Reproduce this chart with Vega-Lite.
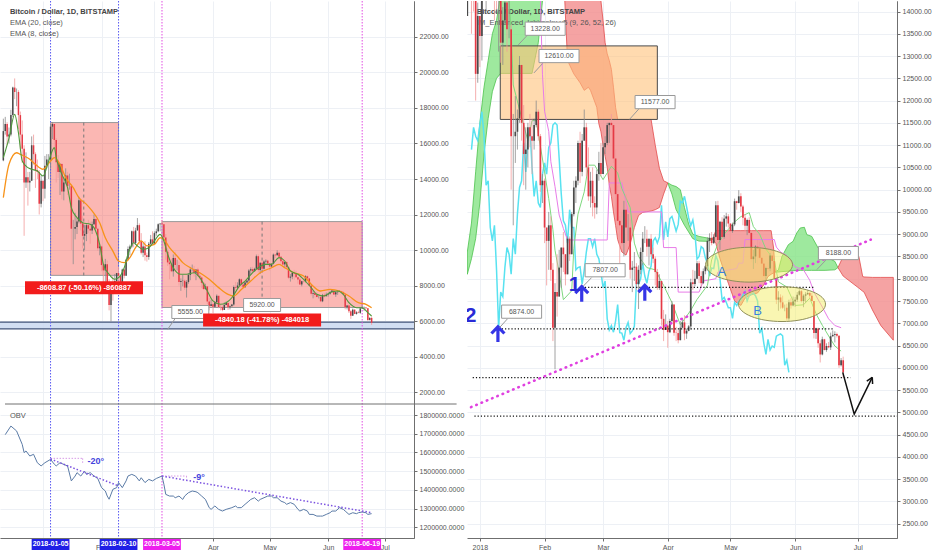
{
"$schema": "https://vega.github.io/schema/vega-lite/v6.json",
"background": "white",
"padding": 0,
"spacing": 53,
"bounds": "flush",
"config": {
  "font": "Liberation Sans",
  "view": {"stroke": null},
  "axis": {"labelFontSize": 7, "labelColor": "#555555", "domainColor": "#6f6f6f", "tickColor": "#6f6f6f", "gridColor": "#edf0f5", "tickSize": 3, "labelPadding": 2, "labelOverlap": false}
},
"datasets": {
  "btc": [
    {"d":"2017-12-11","o":15050,"h":17400,"l":15000,"c":16700},
    {"d":"2017-12-12","o":16700,"h":17500,"l":16500,"c":17100},
    {"d":"2017-12-13","o":17100,"h":17200,"l":15900,"c":16400},
    {"d":"2017-12-14","o":16400,"h":16900,"l":16000,"c":16500},
    {"d":"2017-12-15","o":16500,"h":17900,"l":16400,"c":17600},
    {"d":"2017-12-16","o":17600,"h":19200,"l":17500,"c":19150},
    {"d":"2017-12-17","o":19150,"h":19666,"l":18500,"c":18900},
    {"d":"2017-12-18","o":18900,"h":19100,"l":18100,"c":18900},
    {"d":"2017-12-19","o":18900,"h":19000,"l":16800,"c":17600},
    {"d":"2017-12-20","o":17600,"h":17800,"l":15700,"c":16500},
    {"d":"2017-12-21","o":16500,"h":17300,"l":14900,"c":15700},
    {"d":"2017-12-22","o":15700,"h":15900,"l":10800,"c":13800},
    {"d":"2017-12-23","o":13800,"h":15500,"l":13500,"c":14100},
    {"d":"2017-12-24","o":14100,"h":14400,"l":12500,"c":13800},
    {"d":"2017-12-25","o":13800,"h":14400,"l":13300,"c":13900},
    {"d":"2017-12-26","o":13900,"h":16400,"l":13900,"c":15900},
    {"d":"2017-12-27","o":15900,"h":16500,"l":14800,"c":15400},
    {"d":"2017-12-28","o":15400,"h":15500,"l":13500,"c":14500},
    {"d":"2017-12-29","o":14500,"h":15100,"l":14000,"c":14400},
    {"d":"2017-12-30","o":14400,"h":14500,"l":12000,"c":12600},
    {"d":"2017-12-31","o":12600,"h":14200,"l":12400,"c":13900},
    {"d":"2018-01-01","o":13900,"h":13900,"l":12750,"c":13450},
    {"d":"2018-01-02","o":13450,"h":15300,"l":12900,"c":14750},
    {"d":"2018-01-03","o":14750,"h":15400,"l":14600,"c":15100},
    {"d":"2018-01-04","o":15100,"h":15400,"l":14000,"c":15100},
    {"d":"2018-01-05","o":15100,"h":17100,"l":14600,"c":16950},
    {"d":"2018-01-06","o":16950,"h":17200,"l":16250,"c":17100},
    {"d":"2018-01-07","o":17100,"h":17100,"l":15800,"c":16200},
    {"d":"2018-01-08","o":16200,"h":16300,"l":13800,"c":14950},
    {"d":"2018-01-09","o":14950,"h":15350,"l":14050,"c":14400},
    {"d":"2018-01-10","o":14400,"h":14900,"l":13100,"c":14850},
    {"d":"2018-01-11","o":14850,"h":14900,"l":12850,"c":13300},
    {"d":"2018-01-12","o":13300,"h":14100,"l":12800,"c":13800},
    {"d":"2018-01-13","o":13800,"h":14600,"l":13700,"c":14200},
    {"d":"2018-01-14","o":14200,"h":14400,"l":13100,"c":13600},
    {"d":"2018-01-15","o":13600,"h":14300,"l":13400,"c":13600},
    {"d":"2018-01-16","o":13600,"h":13700,"l":10000,"c":11200},
    {"d":"2018-01-17","o":11200,"h":11700,"l":9200,"c":11200},
    {"d":"2018-01-18","o":11200,"h":12100,"l":10600,"c":11300},
    {"d":"2018-01-19","o":11300,"h":11800,"l":10900,"c":11600},
    {"d":"2018-01-20","o":11600,"h":13000,"l":11500,"c":12800},
    {"d":"2018-01-21","o":12800,"h":12800,"l":11100,"c":11500},
    {"d":"2018-01-22","o":11500,"h":11900,"l":10100,"c":10800},
    {"d":"2018-01-23","o":10800,"h":11400,"l":10000,"c":10900},
    {"d":"2018-01-24","o":10900,"h":11500,"l":10500,"c":11400},
    {"d":"2018-01-25","o":11400,"h":11700,"l":10950,"c":11200},
    {"d":"2018-01-26","o":11200,"h":11600,"l":10350,"c":11100},
    {"d":"2018-01-27","o":11100,"h":11600,"l":10900,"c":11450},
    {"d":"2018-01-28","o":11450,"h":12000,"l":11400,"c":11750},
    {"d":"2018-01-29","o":11750,"h":11800,"l":11100,"c":11200},
    {"d":"2018-01-30","o":11200,"h":11250,"l":9950,"c":10100},
    {"d":"2018-01-31","o":10100,"h":10350,"l":9700,"c":10200},
    {"d":"2018-02-01","o":10200,"h":10250,"l":8800,"c":9150},
    {"d":"2018-02-02","o":9150,"h":9150,"l":7850,"c":8850},
    {"d":"2018-02-03","o":8850,"h":9500,"l":8200,"c":9200},
    {"d":"2018-02-04","o":9200,"h":9400,"l":7950,"c":8200},
    {"d":"2018-02-05","o":8200,"h":8350,"l":6600,"c":6900},
    {"d":"2018-02-06","o":6900,"h":7900,"l":5968,"c":7700},
    {"d":"2018-02-07","o":7700,"h":8550,"l":7150,"c":7600},
    {"d":"2018-02-08","o":7600,"h":8650,"l":7600,"c":8250},
    {"d":"2018-02-09","o":8250,"h":8700,"l":7800,"c":8700},
    {"d":"2018-02-10","o":8700,"h":9050,"l":8150,"c":8550},
    {"d":"2018-02-11","o":8550,"h":8550,"l":7850,"c":8100},
    {"d":"2018-02-12","o":8100,"h":8950,"l":8100,"c":8900},
    {"d":"2018-02-13","o":8900,"h":8950,"l":8400,"c":8550},
    {"d":"2018-02-14","o":8550,"h":9500,"l":8550,"c":9450},
    {"d":"2018-02-15","o":9450,"h":10200,"l":9400,"c":10050},
    {"d":"2018-02-16","o":10050,"h":10300,"l":9700,"c":10200},
    {"d":"2018-02-17","o":10200,"h":11100,"l":10100,"c":11050},
    {"d":"2018-02-18","o":11050,"h":11300,"l":10150,"c":10400},
    {"d":"2018-02-19","o":10400,"h":11250,"l":10300,"c":11100},
    {"d":"2018-02-20","o":11100,"h":11800,"l":11100,"c":11400},
    {"d":"2018-02-21","o":11400,"h":11500,"l":10300,"c":10500},
    {"d":"2018-02-22","o":10500,"h":10950,"l":9750,"c":9850},
    {"d":"2018-02-23","o":9850,"h":10400,"l":9600,"c":10200},
    {"d":"2018-02-24","o":10200,"h":10500,"l":9400,"c":9700},
    {"d":"2018-02-25","o":9700,"h":9850,"l":9350,"c":9600},
    {"d":"2018-02-26","o":9600,"h":10450,"l":9450,"c":10350},
    {"d":"2018-02-27","o":10350,"h":10850,"l":10200,"c":10600},
    {"d":"2018-02-28","o":10600,"h":11050,"l":10300,"c":10350},
    {"d":"2018-03-01","o":10350,"h":11050,"l":10350,"c":10950},
    {"d":"2018-03-02","o":10950,"h":11200,"l":10800,"c":11050},
    {"d":"2018-03-03","o":11050,"h":11500,"l":11000,"c":11450},
    {"d":"2018-03-04","o":11450,"h":11500,"l":11050,"c":11500},
    {"d":"2018-03-05","o":11500,"h":11700,"l":11400,"c":11450},
    {"d":"2018-03-06","o":11450,"h":11450,"l":10600,"c":10700},
    {"d":"2018-03-07","o":10700,"h":10900,"l":9450,"c":9900},
    {"d":"2018-03-08","o":9900,"h":10100,"l":9100,"c":9300},
    {"d":"2018-03-09","o":9300,"h":9400,"l":8350,"c":9200},
    {"d":"2018-03-10","o":9200,"h":9500,"l":8750,"c":8800},
    {"d":"2018-03-11","o":8800,"h":9750,"l":8500,"c":9550},
    {"d":"2018-03-12","o":9550,"h":9900,"l":8800,"c":9150},
    {"d":"2018-03-13","o":9150,"h":9450,"l":8850,"c":9150},
    {"d":"2018-03-14","o":9150,"h":9350,"l":8000,"c":8200},
    {"d":"2018-03-15","o":8200,"h":8400,"l":7700,"c":8250},
    {"d":"2018-03-16","o":8250,"h":8600,"l":7950,"c":8270},
    {"d":"2018-03-17","o":8270,"h":8350,"l":7750,"c":7880},
    {"d":"2018-03-18","o":7880,"h":8300,"l":7320,"c":8200},
    {"d":"2018-03-19","o":8200,"h":8700,"l":8100,"c":8600},
    {"d":"2018-03-20","o":8600,"h":9050,"l":8300,"c":8900},
    {"d":"2018-03-21","o":8900,"h":9180,"l":8800,"c":8900},
    {"d":"2018-03-22","o":8900,"h":9100,"l":8500,"c":8720},
    {"d":"2018-03-23","o":8720,"h":8900,"l":8300,"c":8900},
    {"d":"2018-03-24","o":8900,"h":9000,"l":8500,"c":8550},
    {"d":"2018-03-25","o":8550,"h":8700,"l":8350,"c":8450},
    {"d":"2018-03-26","o":8450,"h":8500,"l":7850,"c":8150},
    {"d":"2018-03-27","o":8150,"h":8220,"l":7750,"c":7800},
    {"d":"2018-03-28","o":7800,"h":8100,"l":7750,"c":7950},
    {"d":"2018-03-29","o":7950,"h":7950,"l":6950,"c":7100},
    {"d":"2018-03-30","o":7100,"h":7300,"l":6600,"c":6850},
    {"d":"2018-03-31","o":6850,"h":7200,"l":6850,"c":6950},
    {"d":"2018-04-01","o":6950,"h":7050,"l":6450,"c":6800},
    {"d":"2018-04-02","o":6800,"h":7100,"l":6780,"c":7050},
    {"d":"2018-04-03","o":7050,"h":7500,"l":7020,"c":7420},
    {"d":"2018-04-04","o":7420,"h":7420,"l":6720,"c":6790},
    {"d":"2018-04-05","o":6790,"h":6920,"l":6600,"c":6780},
    {"d":"2018-04-06","o":6780,"h":6850,"l":6550,"c":6620},
    {"d":"2018-04-07","o":6620,"h":7050,"l":6620,"c":6900},
    {"d":"2018-04-08","o":6900,"h":7100,"l":6900,"c":7020},
    {"d":"2018-04-09","o":7020,"h":7180,"l":6620,"c":6770},
    {"d":"2018-04-10","o":6770,"h":6880,"l":6650,"c":6830},
    {"d":"2018-04-11","o":6830,"h":6960,"l":6820,"c":6930},
    {"d":"2018-04-12","o":6930,"h":8000,"l":6860,"c":7920},
    {"d":"2018-04-13","o":7920,"h":8200,"l":7750,"c":7880},
    {"d":"2018-04-14","o":7880,"h":8180,"l":7830,"c":8000},
    {"d":"2018-04-15","o":8000,"h":8400,"l":8000,"c":8350},
    {"d":"2018-04-16","o":8350,"h":8400,"l":7900,"c":8060},
    {"d":"2018-04-17","o":8060,"h":8170,"l":7830,"c":7900},
    {"d":"2018-04-18","o":7900,"h":8230,"l":7880,"c":8170},
    {"d":"2018-04-19","o":8170,"h":8300,"l":8100,"c":8280},
    {"d":"2018-04-20","o":8280,"h":8930,"l":8200,"c":8850},
    {"d":"2018-04-21","o":8850,"h":9020,"l":8600,"c":8920},
    {"d":"2018-04-22","o":8920,"h":9050,"l":8750,"c":8800},
    {"d":"2018-04-23","o":8800,"h":9000,"l":8780,"c":8940},
    {"d":"2018-04-24","o":8940,"h":9740,"l":8930,"c":9650},
    {"d":"2018-04-25","o":9650,"h":9750,"l":8730,"c":8870},
    {"d":"2018-04-26","o":8870,"h":9300,"l":8650,"c":9280},
    {"d":"2018-04-27","o":9280,"h":9380,"l":8930,"c":8940},
    {"d":"2018-04-28","o":8940,"h":9430,"l":8900,"c":9350},
    {"d":"2018-04-29","o":9350,"h":9480,"l":9170,"c":9400},
    {"d":"2018-04-30","o":9400,"h":9450,"l":9150,"c":9240},
    {"d":"2018-05-01","o":9240,"h":9240,"l":8850,"c":9070},
    {"d":"2018-05-02","o":9070,"h":9260,"l":9030,"c":9220},
    {"d":"2018-05-03","o":9220,"h":9800,"l":9180,"c":9740},
    {"d":"2018-05-04","o":9740,"h":9750,"l":9550,"c":9700},
    {"d":"2018-05-05","o":9700,"h":9990,"l":9690,"c":9850},
    {"d":"2018-05-06","o":9850,"h":9920,"l":9500,"c":9620},
    {"d":"2018-05-07","o":9620,"h":9660,"l":9200,"c":9370},
    {"d":"2018-05-08","o":9370,"h":9450,"l":9050,"c":9190},
    {"d":"2018-05-09","o":9190,"h":9350,"l":8980,"c":9320},
    {"d":"2018-05-10","o":9320,"h":9380,"l":9010,"c":9030},
    {"d":"2018-05-11","o":9030,"h":9030,"l":8370,"c":8440},
    {"d":"2018-05-12","o":8440,"h":8650,"l":8220,"c":8500},
    {"d":"2018-05-13","o":8500,"h":8750,"l":8350,"c":8720},
    {"d":"2018-05-14","o":8720,"h":8880,"l":8320,"c":8680},
    {"d":"2018-05-15","o":8680,"h":8830,"l":8440,"c":8470},
    {"d":"2018-05-16","o":8470,"h":8480,"l":8100,"c":8340},
    {"d":"2018-05-17","o":8340,"h":8430,"l":8030,"c":8060},
    {"d":"2018-05-18","o":8060,"h":8270,"l":7950,"c":8240},
    {"d":"2018-05-19","o":8240,"h":8380,"l":8140,"c":8230},
    {"d":"2018-05-20","o":8230,"h":8580,"l":8170,"c":8520},
    {"d":"2018-05-21","o":8520,"h":8560,"l":8330,"c":8400},
    {"d":"2018-05-22","o":8400,"h":8400,"l":7990,"c":8000},
    {"d":"2018-05-23","o":8000,"h":8030,"l":7430,"c":7530},
    {"d":"2018-05-24","o":7530,"h":7720,"l":7280,"c":7580},
    {"d":"2018-05-25","o":7580,"h":7650,"l":7330,"c":7470},
    {"d":"2018-05-26","o":7470,"h":7620,"l":7320,"c":7350},
    {"d":"2018-05-27","o":7350,"h":7420,"l":7270,"c":7350},
    {"d":"2018-05-28","o":7350,"h":7440,"l":7060,"c":7110},
    {"d":"2018-05-29","o":7110,"h":7530,"l":7060,"c":7470},
    {"d":"2018-05-30","o":7470,"h":7560,"l":7330,"c":7400},
    {"d":"2018-05-31","o":7400,"h":7600,"l":7380,"c":7490},
    {"d":"2018-06-01","o":7490,"h":7590,"l":7370,"c":7530},
    {"d":"2018-06-02","o":7530,"h":7700,"l":7480,"c":7640},
    {"d":"2018-06-03","o":7640,"h":7760,"l":7620,"c":7720},
    {"d":"2018-06-04","o":7720,"h":7750,"l":7470,"c":7500},
    {"d":"2018-06-05","o":7500,"h":7650,"l":7360,"c":7620},
    {"d":"2018-06-06","o":7620,"h":7700,"l":7470,"c":7650},
    {"d":"2018-06-07","o":7650,"h":7740,"l":7640,"c":7680},
    {"d":"2018-06-08","o":7680,"h":7700,"l":7560,"c":7620},
    {"d":"2018-06-09","o":7620,"h":7680,"l":7490,"c":7500},
    {"d":"2018-06-10","o":7500,"h":7500,"l":6660,"c":6780},
    {"d":"2018-06-11","o":6780,"h":6900,"l":6650,"c":6880},
    {"d":"2018-06-12","o":6880,"h":6900,"l":6450,"c":6550},
    {"d":"2018-06-13","o":6550,"h":6620,"l":6120,"c":6300},
    {"d":"2018-06-14","o":6300,"h":6700,"l":6280,"c":6640},
    {"d":"2018-06-15","o":6640,"h":6650,"l":6390,"c":6400},
    {"d":"2018-06-16","o":6400,"h":6550,"l":6360,"c":6490},
    {"d":"2018-06-17","o":6490,"h":6580,"l":6440,"c":6460},
    {"d":"2018-06-18","o":6460,"h":6790,"l":6400,"c":6710},
    {"d":"2018-06-19","o":6710,"h":6840,"l":6690,"c":6740},
    {"d":"2018-06-20","o":6740,"h":6820,"l":6570,"c":6760},
    {"d":"2018-06-21","o":6760,"h":6790,"l":6680,"c":6720},
    {"d":"2018-06-22","o":6720,"h":6730,"l":6000,"c":6060},
    {"d":"2018-06-23","o":6060,"h":6220,"l":6030,"c":6170},
    {"d":"2018-06-24","o":6170,"h":6250,"l":5780,"c":5900}
  ],
  "ema": [
    {"d":"2017-12-11","v":12950,"s":"e20"},{"d":"2017-12-14","v":14830,"s":"e20"},{"d":"2017-12-18","v":15480,"s":"e20"},{"d":"2017-12-20","v":15390,"s":"e20"},{"d":"2017-12-25","v":15110,"s":"e20"},{"d":"2017-12-28","v":14830,"s":"e20"},{"d":"2018-01-01","v":14550,"s":"e20"},{"d":"2018-01-05","v":15010,"s":"e20"},{"d":"2018-01-07","v":15200,"s":"e20"},{"d":"2018-01-10","v":14830,"s":"e20"},{"d":"2018-01-13","v":14080,"s":"e20"},{"d":"2018-01-17","v":13510,"s":"e20"},{"d":"2018-01-20","v":12950,"s":"e20"},{"d":"2018-01-24","v":12570,"s":"e20"},{"d":"2018-01-27","v":12200,"s":"e20"},{"d":"2018-01-31","v":11540,"s":"e20"},{"d":"2018-02-03","v":10690,"s":"e20"},{"d":"2018-02-07","v":9940,"s":"e20"},{"d":"2018-02-10","v":9380,"s":"e20"},{"d":"2018-02-13","v":9290,"s":"e20"},{"d":"2018-02-16","v":9570,"s":"e20"},{"d":"2018-02-19","v":10130,"s":"e20"},{"d":"2018-02-22","v":10510,"s":"e20"},{"d":"2018-02-25","v":10230,"s":"e20"},{"d":"2018-03-01","v":10320,"s":"e20"},{"d":"2018-03-04","v":10690,"s":"e20"},{"d":"2018-03-06","v":10600,"s":"e20"},{"d":"2018-03-09","v":10130,"s":"e20"},{"d":"2018-03-13","v":9660,"s":"e20"},{"d":"2018-03-16","v":9290,"s":"e20"},{"d":"2018-03-20","v":9000,"s":"e20"},{"d":"2018-03-25","v":8720,"s":"e20"},{"d":"2018-03-30","v":8350,"s":"e20"},{"d":"2018-04-04","v":7880,"s":"e20"},{"d":"2018-04-09","v":7500,"s":"e20"},{"d":"2018-04-12","v":7410,"s":"e20"},{"d":"2018-04-16","v":7780,"s":"e20"},{"d":"2018-04-21","v":8250,"s":"e20"},{"d":"2018-04-26","v":8720,"s":"e20"},{"d":"2018-05-02","v":9000,"s":"e20"},{"d":"2018-05-06","v":9190,"s":"e20"},{"d":"2018-05-09","v":9000,"s":"e20"},{"d":"2018-05-14","v":8720,"s":"e20"},{"d":"2018-05-19","v":8540,"s":"e20"},{"d":"2018-05-23","v":8070,"s":"e20"},{"d":"2018-05-28","v":7690,"s":"e20"},{"d":"2018-06-02","v":7780,"s":"e20"},{"d":"2018-06-07","v":7690,"s":"e20"},{"d":"2018-06-12","v":7410,"s":"e20"},{"d":"2018-06-17","v":7030,"s":"e20"},{"d":"2018-06-21","v":6940,"s":"e20"},{"d":"2018-06-24","v":6750,"s":"e20"},
    {"d":"2017-12-11","v":15200,"s":"e8"},{"d":"2017-12-14","v":16300,"s":"e8"},{"d":"2017-12-17","v":17640,"s":"e8"},{"d":"2017-12-19","v":16600,"s":"e8"},{"d":"2017-12-21","v":15010,"s":"e8"},{"d":"2017-12-24","v":14640,"s":"e8"},{"d":"2017-12-26","v":14550,"s":"e8"},{"d":"2017-12-29","v":14450,"s":"e8"},{"d":"2018-01-01","v":14170,"s":"e8"},{"d":"2018-01-04","v":15010,"s":"e8"},{"d":"2018-01-07","v":15770,"s":"e8"},{"d":"2018-01-08","v":15200,"s":"e8"},{"d":"2018-01-11","v":14260,"s":"e8"},{"d":"2018-01-14","v":13510,"s":"e8"},{"d":"2018-01-16","v":12390,"s":"e8"},{"d":"2018-01-19","v":11820,"s":"e8"},{"d":"2018-01-22","v":11540,"s":"e8"},{"d":"2018-01-26","v":11450,"s":"e8"},{"d":"2018-01-28","v":11260,"s":"e8"},{"d":"2018-01-31","v":10320,"s":"e8"},{"d":"2018-02-02","v":9190,"s":"e8"},{"d":"2018-02-05","v":8630,"s":"e8"},{"d":"2018-02-08","v":8350,"s":"e8"},{"d":"2018-02-10","v":8440,"s":"e8"},{"d":"2018-02-13","v":9000,"s":"e8"},{"d":"2018-02-15","v":9760,"s":"e8"},{"d":"2018-02-18","v":10410,"s":"e8"},{"d":"2018-02-20","v":10230,"s":"e8"},{"d":"2018-02-23","v":10040,"s":"e8"},{"d":"2018-02-26","v":10130,"s":"e8"},{"d":"2018-03-01","v":10510,"s":"e8"},{"d":"2018-03-04","v":10880,"s":"e8"},{"d":"2018-03-06","v":10510,"s":"e8"},{"d":"2018-03-08","v":9760,"s":"e8"},{"d":"2018-03-11","v":9000,"s":"e8"},{"d":"2018-03-15","v":8630,"s":"e8"},{"d":"2018-03-18","v":8630,"s":"e8"},{"d":"2018-03-22","v":8720,"s":"e8"},{"d":"2018-03-25","v":8440,"s":"e8"},{"d":"2018-03-29","v":7690,"s":"e8"},{"d":"2018-04-01","v":7130,"s":"e8"},{"d":"2018-04-05","v":6940,"s":"e8"},{"d":"2018-04-08","v":7030,"s":"e8"},{"d":"2018-04-11","v":7310,"s":"e8"},{"d":"2018-04-15","v":7970,"s":"e8"},{"d":"2018-04-18","v":8250,"s":"e8"},{"d":"2018-04-22","v":8720,"s":"e8"},{"d":"2018-04-25","v":9000,"s":"e8"},{"d":"2018-04-29","v":9190,"s":"e8"},{"d":"2018-05-02","v":9190,"s":"e8"},{"d":"2018-05-06","v":9570,"s":"e8"},{"d":"2018-05-09","v":9380,"s":"e8"},{"d":"2018-05-12","v":8820,"s":"e8"},{"d":"2018-05-16","v":8630,"s":"e8"},{"d":"2018-05-19","v":8350,"s":"e8"},{"d":"2018-05-23","v":7880,"s":"e8"},{"d":"2018-05-26","v":7500,"s":"e8"},{"d":"2018-05-30","v":7410,"s":"e8"},{"d":"2018-06-02","v":7600,"s":"e8"},{"d":"2018-06-06","v":7690,"s":"e8"},{"d":"2018-06-09","v":7500,"s":"e8"},{"d":"2018-06-12","v":7030,"s":"e8"},{"d":"2018-06-16","v":6750,"s":"e8"},{"d":"2018-06-19","v":6750,"s":"e8"},{"d":"2018-06-22","v":6470,"s":"e8"},{"d":"2018-06-24","v":6280,"s":"e8"}
  ],
  "obv": [
    {"d":"2017-12-12","v":1695000},{"d":"2017-12-15","v":1741000},{"d":"2017-12-18","v":1715000},{"d":"2017-12-21","v":1643000},{"d":"2017-12-22","v":1599000},{"d":"2017-12-23","v":1608000},{"d":"2017-12-25","v":1581000},{"d":"2017-12-27","v":1590000},{"d":"2017-12-29","v":1545000},{"d":"2017-12-31","v":1528000},{"d":"2018-01-02","v":1545000},{"d":"2018-01-05","v":1563000},{"d":"2018-01-07","v":1537000},{"d":"2018-01-08","v":1528000},{"d":"2018-01-10","v":1545000},{"d":"2018-01-12","v":1536000},{"d":"2018-01-14","v":1528000},{"d":"2018-01-16","v":1448000},{"d":"2018-01-18","v":1474000},{"d":"2018-01-19","v":1492000},{"d":"2018-01-21","v":1474000},{"d":"2018-01-23","v":1500000},{"d":"2018-01-24","v":1483000},{"d":"2018-01-26","v":1492000},{"d":"2018-01-28","v":1474000},{"d":"2018-01-30","v":1461000},{"d":"2018-02-01","v":1412000},{"d":"2018-02-03","v":1394000},{"d":"2018-02-04","v":1367000},{"d":"2018-02-05","v":1350000},{"d":"2018-02-07","v":1403000},{"d":"2018-02-09","v":1412000},{"d":"2018-02-10","v":1439000},{"d":"2018-02-12","v":1412000},{"d":"2018-02-14","v":1448000},{"d":"2018-02-15","v":1474000},{"d":"2018-02-17","v":1483000},{"d":"2018-02-19","v":1474000},{"d":"2018-02-21","v":1448000},{"d":"2018-02-22","v":1465000},{"d":"2018-02-24","v":1439000},{"d":"2018-02-26","v":1456000},{"d":"2018-02-28","v":1448000},{"d":"2018-03-02","v":1461000},{"d":"2018-03-05","v":1474000},{"d":"2018-03-06","v":1430000},{"d":"2018-03-07","v":1376000},{"d":"2018-03-09","v":1367000},{"d":"2018-03-11","v":1367000},{"d":"2018-03-12","v":1358000},{"d":"2018-03-14","v":1367000},{"d":"2018-03-16","v":1349000},{"d":"2018-03-17","v":1367000},{"d":"2018-03-19","v":1385000},{"d":"2018-03-21","v":1394000},{"d":"2018-03-23","v":1390000},{"d":"2018-03-24","v":1385000},{"d":"2018-03-26","v":1367000},{"d":"2018-03-28","v":1349000},{"d":"2018-03-30","v":1305000},{"d":"2018-03-31","v":1296000},{"d":"2018-04-02","v":1314000},{"d":"2018-04-04","v":1296000},{"d":"2018-04-06","v":1287000},{"d":"2018-04-08","v":1296000},{"d":"2018-04-11","v":1305000},{"d":"2018-04-13","v":1314000},{"d":"2018-04-14","v":1305000},{"d":"2018-04-16","v":1305000},{"d":"2018-04-18","v":1323000},{"d":"2018-04-20","v":1340000},{"d":"2018-04-21","v":1349000},{"d":"2018-04-23","v":1358000},{"d":"2018-04-25","v":1340000},{"d":"2018-04-26","v":1349000},{"d":"2018-04-28","v":1358000},{"d":"2018-04-30","v":1367000},{"d":"2018-05-02","v":1367000},{"d":"2018-05-03","v":1358000},{"d":"2018-05-05","v":1358000},{"d":"2018-05-07","v":1340000},{"d":"2018-05-09","v":1332000},{"d":"2018-05-10","v":1323000},{"d":"2018-05-12","v":1332000},{"d":"2018-05-14","v":1323000},{"d":"2018-05-16","v":1296000},{"d":"2018-05-17","v":1287000},{"d":"2018-05-19","v":1296000},{"d":"2018-05-21","v":1287000},{"d":"2018-05-22","v":1269000},{"d":"2018-05-24","v":1269000},{"d":"2018-05-26","v":1260000},{"d":"2018-05-28","v":1260000},{"d":"2018-05-29","v":1260000},{"d":"2018-05-31","v":1269000},{"d":"2018-06-02","v":1278000},{"d":"2018-06-03","v":1287000},{"d":"2018-06-05","v":1287000},{"d":"2018-06-07","v":1305000},{"d":"2018-06-09","v":1296000},{"d":"2018-06-10","v":1287000},{"d":"2018-06-12","v":1269000},{"d":"2018-06-14","v":1278000},{"d":"2018-06-16","v":1273000},{"d":"2018-06-17","v":1278000},{"d":"2018-06-19","v":1282000},{"d":"2018-06-21","v":1278000},{"d":"2018-06-22","v":1269000},{"d":"2018-06-24","v":1273000}
  ],
  "lbox": [
    {"d":"2018-01-05","d2":"2018-02-10","top":17180,"bot":8571},
    {"d":"2018-03-05","d2":"2018-06-19","top":11600,"bot":6760}
  ],
  "lmid": [
    {"d":"2018-01-22T14:00:00Z","top":17180,"bot":8571},
    {"d":"2018-04-27","top":11600,"bot":6760}
  ],
  "band": [{"d":"2017-12-01","d2":"2018-08-01","top":5940,"bot":5555}],
  "vlines": [
    {"d":"2018-01-05","g":"blue"},{"d":"2018-02-10","g":"blue"},
    {"d":"2018-03-05","g":"pink"},{"d":"2018-06-19","g":"pink"}
  ],
  "sep": [{"d":"2017-12-11T21:00:00Z","d2":"2018-08-08","p":1324}],
  "ltitle": [
    {"d":"2017-12-14T11:00:00Z","p":23425,"t":"Bitcoin / Dollar, 1D, BITSTAMP","k":"main"},
    {"d":"2017-12-14T11:00:00Z","p":22806,"t":"EMA (20, close)","k":"study"},
    {"d":"2017-12-14T11:00:00Z","p":22186,"t":"EMA (8, close)","k":"study"}
  ],
  "lcall": [
    {"d":"2018-03-20","p":6507,"t":"5555.00"},
    {"d":"2018-04-27","p":6901,"t":"5920.00"}
  ],
  "lptr": [{"d":"2018-03-12","p":6141,"d2":"2018-03-08","p2":5530}],
  "lred": [
    {"d":"2018-01-22T17:00:00Z","p":7876,"t":"-8608.87 (-50.16%) -860887"},
    {"d":"2018-04-27","p":6056,"t":"-4840.18 (-41.78%) -484018"}
  ],
  "obvtrend": [
    {"d":"2018-01-05","v":1565000,"d2":"2018-02-10","v2":1421000},
    {"d":"2018-03-05","v":1474000,"d2":"2018-06-24","v2":1278500}
  ],
  "obvref": [
    {"d":"2018-01-05","v":1568600,"d2":"2018-01-22","v2":1568600},
    {"d":"2018-01-22","v":1568600,"d2":"2018-01-22","v2":1536500},
    {"d":"2018-03-05","v":1474100,"d2":"2018-03-18","v2":1474100},
    {"d":"2018-03-18","v":1474100,"d2":"2018-03-18","v2":1456000}
  ],
  "obvang": [
    {"d":"2018-01-29","v":1554300,"t":"-20°"},
    {"d":"2018-03-24T16:00:00Z","v":1468800,"t":"-9°"}
  ],
  "obvlbl": [{"d":"2017-12-14T11:00:00Z","v":1794700,"t":"OBV"}],
  "badge": [
    {"d":"2017-12-26","d2":"2018-01-15","g":"blue"},
    {"d":"2018-01-31","d2":"2018-02-20","g":"blue"},
    {"d":"2018-02-23","d2":"2018-03-15","g":"pink"},
    {"d":"2018-06-09","d2":"2018-06-29","g":"pink"}
  ],
  "badgetxt": [
    {"d":"2018-01-05","t":"2018-01-05"},
    {"d":"2018-02-10","t":"2018-02-10"},
    {"d":"2018-03-05","t":"2018-03-05"},
    {"d":"2018-06-19","t":"2018-06-19"}
  ],
  "cloud": [
    {"d":"2017-12-26","hi":8600,"lo":8100,"seg":"g1","k":"g"},
    {"d":"2017-12-28","hi":9250,"lo":8450,"seg":"g1","k":"g"},
    {"d":"2017-12-30","hi":10400,"lo":8900,"seg":"g1","k":"g"},
    {"d":"2018-01-01","hi":11500,"lo":9700,"seg":"g1","k":"g"},
    {"d":"2018-01-03","hi":12300,"lo":10800,"seg":"g1","k":"g"},
    {"d":"2018-01-05","hi":12900,"lo":11600,"seg":"g1","k":"g"},
    {"d":"2018-01-07","hi":13500,"lo":12200,"seg":"g1","k":"g"},
    {"d":"2018-01-09","hi":13800,"lo":12500,"seg":"g1","k":"g"},
    {"d":"2018-01-11","hi":14400,"lo":12610,"seg":"g1","k":"g"},
    {"d":"2018-01-13","hi":15000,"lo":12610,"seg":"g1","k":"g"},
    {"d":"2018-01-26","hi":15000,"lo":12610,"seg":"g1","k":"g"},
    {"d":"2018-01-29","hi":15000,"lo":13300,"seg":"g1","k":"g"},
    {"d":"2018-01-31","hi":15000,"lo":14236,"seg":"g1","k":"g"},
    {"d":"2018-02-01","hi":15000,"lo":15000,"seg":"g1","k":"g"},
    {"d":"2018-02-10","hi":15000,"lo":15000,"seg":"r1","k":"r"},
    {"d":"2018-02-11","hi":15000,"lo":13900,"seg":"r1","k":"r"},
    {"d":"2018-02-12","hi":15000,"lo":12900,"seg":"r1","k":"r"},
    {"d":"2018-02-15","hi":15000,"lo":12600,"seg":"r1","k":"r"},
    {"d":"2018-02-18","hi":15000,"lo":12400,"seg":"r1","k":"r"},
    {"d":"2018-02-20","hi":15000,"lo":12230,"seg":"r1","k":"r"},
    {"d":"2018-02-22","hi":15000,"lo":12300,"seg":"r1","k":"r"},
    {"d":"2018-02-23","hi":15000,"lo":12230,"seg":"r1","k":"r"},
    {"d":"2018-02-26","hi":15000,"lo":11850,"seg":"r1","k":"r"},
    {"d":"2018-02-27","hi":14500,"lo":11480,"seg":"r1","k":"r"},
    {"d":"2018-02-28","hi":14236,"lo":11300,"seg":"r1","k":"r"},
    {"d":"2018-03-01","hi":13800,"lo":11000,"seg":"r1","k":"r"},
    {"d":"2018-03-02","hi":13300,"lo":10750,"seg":"r1","k":"r"},
    {"d":"2018-03-03","hi":13050,"lo":10500,"seg":"r1","k":"r"},
    {"d":"2018-03-04","hi":12900,"lo":10100,"seg":"r1","k":"r"},
    {"d":"2018-03-05","hi":12700,"lo":9850,"seg":"r1","k":"r"},
    {"d":"2018-03-06","hi":12300,"lo":9500,"seg":"r1","k":"r"},
    {"d":"2018-03-07","hi":11850,"lo":9200,"seg":"r1","k":"r"},
    {"d":"2018-03-08","hi":11577,"lo":8880,"seg":"r1","k":"r"},
    {"d":"2018-03-10","hi":11577,"lo":8600,"seg":"r1","k":"r"},
    {"d":"2018-03-12","hi":11577,"lo":8530,"seg":"r1","k":"r"},
    {"d":"2018-03-14","hi":11577,"lo":8780,"seg":"r1","k":"r"},
    {"d":"2018-03-16","hi":11577,"lo":9150,"seg":"r1","k":"r"},
    {"d":"2018-03-18","hi":11577,"lo":9420,"seg":"r1","k":"r"},
    {"d":"2018-03-20","hi":11577,"lo":9490,"seg":"r1","k":"r"},
    {"d":"2018-03-22","hi":11577,"lo":9505,"seg":"r1","k":"r"},
    {"d":"2018-03-24","hi":11577,"lo":9520,"seg":"r1","k":"r"},
    {"d":"2018-03-26","hi":11000,"lo":9550,"seg":"r1","k":"r"},
    {"d":"2018-03-28","hi":10480,"lo":9600,"seg":"r1","k":"r"},
    {"d":"2018-03-30","hi":10200,"lo":9900,"seg":"r1","k":"r"},
    {"d":"2018-04-01","hi":10153,"lo":10153,"seg":"r1","k":"r"},
    {"d":"2018-04-01","hi":10153,"lo":10153,"seg":"g2","k":"g"},
    {"d":"2018-04-03","hi":10100,"lo":9900,"seg":"g2","k":"g"},
    {"d":"2018-04-05","hi":10070,"lo":9550,"seg":"g2","k":"g"},
    {"d":"2018-04-07","hi":10000,"lo":9380,"seg":"g2","k":"g"},
    {"d":"2018-04-09","hi":9600,"lo":9200,"seg":"g2","k":"g"},
    {"d":"2018-04-11","hi":9230,"lo":9050,"seg":"g2","k":"g"},
    {"d":"2018-04-13","hi":9000,"lo":8900,"seg":"g2","k":"g"},
    {"d":"2018-04-16","hi":8950,"lo":8845,"seg":"g2","k":"g"},
    {"d":"2018-04-20","hi":8915,"lo":8840,"seg":"g2","k":"g"},
    {"d":"2018-04-22T12:00:00Z","hi":8890,"lo":8890,"seg":"g2","k":"g"},
    {"d":"2018-04-22T12:00:00Z","hi":8890,"lo":8890,"seg":"r2","k":"r"},
    {"d":"2018-04-24","hi":9080,"lo":8800,"seg":"r2","k":"r"},
    {"d":"2018-04-26","hi":9080,"lo":8450,"seg":"r2","k":"r"},
    {"d":"2018-04-28","hi":9080,"lo":8165,"seg":"r2","k":"r"},
    {"d":"2018-04-30","hi":9080,"lo":7900,"seg":"r2","k":"r"},
    {"d":"2018-05-03","hi":9080,"lo":7500,"seg":"r2","k":"r"},
    {"d":"2018-05-06","hi":9080,"lo":7400,"seg":"r2","k":"r"},
    {"d":"2018-05-08","hi":9080,"lo":7565,"seg":"r2","k":"r"},
    {"d":"2018-05-11","hi":9080,"lo":7640,"seg":"r2","k":"r"},
    {"d":"2018-05-14","hi":9080,"lo":7680,"seg":"r2","k":"r"},
    {"d":"2018-05-17","hi":9080,"lo":7865,"seg":"r2","k":"r"},
    {"d":"2018-05-19","hi":9080,"lo":8050,"seg":"r2","k":"r"},
    {"d":"2018-05-20T12:00:00Z","hi":9080,"lo":8100,"seg":"r2","k":"r"},
    {"d":"2018-05-21T16:00:00Z","hi":8690,"lo":8130,"seg":"r2","k":"r"},
    {"d":"2018-05-22T12:00:00Z","hi":8150,"lo":8150,"seg":"r2","k":"r"},
    {"d":"2018-05-22T12:00:00Z","hi":8150,"lo":8150,"seg":"g3","k":"g"},
    {"d":"2018-05-24","hi":8200,"lo":8150,"seg":"g3","k":"g"},
    {"d":"2018-05-25T16:00:00Z","hi":8500,"lo":8160,"seg":"g3","k":"g"},
    {"d":"2018-05-28T18:00:00Z","hi":8765,"lo":8170,"seg":"g3","k":"g"},
    {"d":"2018-05-31","hi":8840,"lo":8180,"seg":"g3","k":"g"},
    {"d":"2018-06-01T18:00:00Z","hi":9027,"lo":8185,"seg":"g3","k":"g"},
    {"d":"2018-06-03T10:00:00Z","hi":9140,"lo":8188,"seg":"g3","k":"g"},
    {"d":"2018-06-05T10:00:00Z","hi":9155,"lo":8188,"seg":"g3","k":"g"},
    {"d":"2018-06-06T14:00:00Z","hi":8990,"lo":8188,"seg":"g3","k":"g"},
    {"d":"2018-06-08T22:00:00Z","hi":8952,"lo":8188,"seg":"g3","k":"g"},
    {"d":"2018-06-12","hi":8690,"lo":8188,"seg":"g3","k":"g"},
    {"d":"2018-06-15T08:00:00Z","hi":8502,"lo":8188,"seg":"g3","k":"g"},
    {"d":"2018-06-20","hi":8390,"lo":8200,"seg":"g3","k":"g"},
    {"d":"2018-06-21T12:00:00Z","hi":8250,"lo":8250,"seg":"g3","k":"g"},
    {"d":"2018-06-21T12:00:00Z","hi":8250,"lo":8250,"seg":"r3","k":"r"},
    {"d":"2018-06-24","hi":8500,"lo":8060,"seg":"r3","k":"r"},
    {"d":"2018-07-01T12:00:00Z","hi":8500,"lo":7790,"seg":"r3","k":"r"},
    {"d":"2018-07-03T08:00:00Z","hi":8050,"lo":7720,"seg":"r3","k":"r"},
    {"d":"2018-07-04","hi":8040,"lo":7700,"seg":"r3","k":"r"},
    {"d":"2018-07-08","hi":8030,"lo":7300,"seg":"r3","k":"r"},
    {"d":"2018-07-12","hi":8030,"lo":6950,"seg":"r3","k":"r"},
    {"d":"2018-07-18","hi":8030,"lo":6620,"seg":"r3","k":"r"}
  ],
  "obox": [{"d":"2018-01-10T19:00:00Z","d2":"2018-03-27","top":13228,"bot":11577}],
  "rtitle": [
    {"d":"2017-12-30T14:00:00Z","p":13996,"t":"Bitcoin / Dollar, 1D, BITSTAMP","k":"main"},
    {"d":"2017-12-30T14:00:00Z","p":13742,"t":"IM_Enhanced_Ichimoku v5 (9, 26, 52, 26)","k":"study"}
  ],
  "kijun": [
    {"d":"2018-01-30","v":14300},{"d":"2018-01-31","v":12580},{"d":"2018-02-01","v":11760},{"d":"2018-02-03","v":11310},{"d":"2018-02-04","v":10630},{"d":"2018-02-06","v":10070},{"d":"2018-02-08","v":9430},{"d":"2018-02-10","v":9130},{"d":"2018-02-12","v":8870},{"d":"2018-03-03","v":8870},{"d":"2018-03-04","v":10150},{"d":"2018-03-10","v":10150},{"d":"2018-03-13","v":9500},{"d":"2018-03-29","v":9500},{"d":"2018-03-30","v":8700},{"d":"2018-04-05","v":8700},{"d":"2018-04-06","v":7700},{"d":"2018-04-16","v":7700},{"d":"2018-04-18","v":7950},{"d":"2018-04-24","v":8000},{"d":"2018-04-25","v":8150},{"d":"2018-05-04","v":8230},{"d":"2018-05-05","v":8350},{"d":"2018-05-07","v":8350},{"d":"2018-05-08","v":8880},{"d":"2018-05-22","v":8880},{"d":"2018-05-23","v":8710},{"d":"2018-05-25","v":8600},{"d":"2018-05-28","v":8520},{"d":"2018-06-01","v":8265},{"d":"2018-06-05","v":8200},{"d":"2018-06-08","v":7965},{"d":"2018-06-10","v":7700},{"d":"2018-06-14","v":7365},{"d":"2018-06-17","v":7100},{"d":"2018-06-20","v":6950},{"d":"2018-06-23","v":6900}
  ],
  "tenkan": [
    {"d":"2018-01-08","v":15200},{"d":"2018-01-14","v":15000},{"d":"2018-01-16","v":13550},{"d":"2018-01-17","v":12350},{"d":"2018-01-20","v":11800},{"d":"2018-01-24","v":11100},{"d":"2018-01-26","v":11550},{"d":"2018-01-28","v":11550},{"d":"2018-02-01","v":10400},{"d":"2018-02-03","v":9800},{"d":"2018-02-05","v":9100},{"d":"2018-02-06","v":8640},{"d":"2018-02-08","v":8130},{"d":"2018-02-10","v":7530},{"d":"2018-02-14","v":7730},{"d":"2018-02-15","v":8675},{"d":"2018-02-17","v":9450},{"d":"2018-02-20","v":9950},{"d":"2018-02-22","v":10550},{"d":"2018-02-25","v":10550},{"d":"2018-03-01","v":10225},{"d":"2018-03-05","v":10525},{"d":"2018-03-08","v":10375},{"d":"2018-03-10","v":10025},{"d":"2018-03-14","v":9600},{"d":"2018-03-16","v":8800},{"d":"2018-03-18","v":8500},{"d":"2018-03-22","v":8250},{"d":"2018-03-26","v":8200},{"d":"2018-03-30","v":7850},{"d":"2018-04-03","v":7465},{"d":"2018-04-07","v":6965},{"d":"2018-04-12","v":7290},{"d":"2018-04-15","v":7535},{"d":"2018-04-20","v":7850},{"d":"2018-04-22","v":8425},{"d":"2018-04-25","v":8785},{"d":"2018-04-28","v":9000},{"d":"2018-05-03","v":9275},{"d":"2018-05-06","v":9395},{"d":"2018-05-10","v":9485},{"d":"2018-05-12","v":9170},{"d":"2018-05-15","v":9000},{"d":"2018-05-18","v":8665},{"d":"2018-05-22","v":8415},{"d":"2018-05-24","v":7930},{"d":"2018-05-28","v":7815},{"d":"2018-06-01","v":7400},{"d":"2018-06-05","v":7415},{"d":"2018-06-08","v":7565},{"d":"2018-06-11","v":7215},{"d":"2018-06-14","v":6955},{"d":"2018-06-18","v":6640},{"d":"2018-06-20","v":6490},{"d":"2018-06-23","v":6375}
  ],
  "chikou": [
    {"d":"2017-12-28","v":10900},{"d":"2017-12-29","v":11400},{"d":"2017-12-30","v":11200},{"d":"2017-12-31","v":11100},{"d":"2018-01-01","v":11450},{"d":"2018-01-02","v":11750},{"d":"2018-01-03","v":11200},{"d":"2018-01-04","v":10100},{"d":"2018-01-05","v":10200},{"d":"2018-01-06","v":9150},{"d":"2018-01-07","v":8850},{"d":"2018-01-08","v":9200},{"d":"2018-01-09","v":8200},{"d":"2018-01-10","v":6900},{"d":"2018-01-11","v":7700},{"d":"2018-01-12","v":7600},{"d":"2018-01-13","v":8250},{"d":"2018-01-14","v":8700},{"d":"2018-01-15","v":8550},{"d":"2018-01-16","v":8100},{"d":"2018-01-17","v":8900},{"d":"2018-01-18","v":8550},{"d":"2018-01-19","v":9450},{"d":"2018-01-20","v":10050},{"d":"2018-01-21","v":10200},{"d":"2018-01-22","v":11050},{"d":"2018-01-23","v":10400},{"d":"2018-01-24","v":11100},{"d":"2018-01-25","v":11400},{"d":"2018-01-26","v":10500},{"d":"2018-01-27","v":9850},{"d":"2018-01-28","v":10200},{"d":"2018-01-29","v":9700},{"d":"2018-01-30","v":9600},{"d":"2018-01-31","v":10350},
    {"d":"2018-02-01","v":10600},{"d":"2018-02-02","v":10350},{"d":"2018-02-03","v":10950},{"d":"2018-02-04","v":11050},{"d":"2018-02-05","v":11450},{"d":"2018-02-06","v":11500},{"d":"2018-02-07","v":11450},{"d":"2018-02-08","v":10700},{"d":"2018-02-09","v":9900},{"d":"2018-02-10","v":9300},{"d":"2018-02-11","v":9200},{"d":"2018-02-12","v":8800},{"d":"2018-02-13","v":9550},{"d":"2018-02-14","v":9150},{"d":"2018-02-15","v":9150},{"d":"2018-02-16","v":8200},{"d":"2018-02-17","v":8250},{"d":"2018-02-18","v":8270},{"d":"2018-02-19","v":7880},{"d":"2018-02-20","v":8200},{"d":"2018-02-21","v":8600},{"d":"2018-02-22","v":8900},{"d":"2018-02-23","v":8900},{"d":"2018-02-24","v":8720},{"d":"2018-02-25","v":8900},{"d":"2018-02-26","v":8550},{"d":"2018-02-27","v":8450},{"d":"2018-02-28","v":8150},
    {"d":"2018-03-01","v":7800},{"d":"2018-03-02","v":7950},{"d":"2018-03-03","v":7100},{"d":"2018-03-04","v":6850},{"d":"2018-03-05","v":6950},{"d":"2018-03-06","v":6800},{"d":"2018-03-07","v":7050},{"d":"2018-03-08","v":7420},{"d":"2018-03-09","v":6790},{"d":"2018-03-10","v":6780},{"d":"2018-03-11","v":6620},{"d":"2018-03-12","v":6900},{"d":"2018-03-13","v":7020},{"d":"2018-03-14","v":6770},{"d":"2018-03-15","v":6830},{"d":"2018-03-16","v":6930},{"d":"2018-03-17","v":7920},{"d":"2018-03-18","v":7880},{"d":"2018-03-19","v":8000},{"d":"2018-03-20","v":8350},{"d":"2018-03-21","v":8060},{"d":"2018-03-22","v":7900},{"d":"2018-03-23","v":8170},{"d":"2018-03-24","v":8280},{"d":"2018-03-25","v":8850},{"d":"2018-03-26","v":8920},{"d":"2018-03-27","v":8800},{"d":"2018-03-28","v":8940},{"d":"2018-03-29","v":9650},{"d":"2018-03-30","v":8870},{"d":"2018-03-31","v":9280},
    {"d":"2018-04-01","v":8940},{"d":"2018-04-02","v":9350},{"d":"2018-04-03","v":9400},{"d":"2018-04-04","v":9240},{"d":"2018-04-05","v":9070},{"d":"2018-04-06","v":9220},{"d":"2018-04-07","v":9740},{"d":"2018-04-08","v":9700},{"d":"2018-04-09","v":9850},{"d":"2018-04-10","v":9620},{"d":"2018-04-11","v":9370},{"d":"2018-04-12","v":9190},{"d":"2018-04-13","v":9320},{"d":"2018-04-14","v":9030},{"d":"2018-04-15","v":8440},{"d":"2018-04-16","v":8500},{"d":"2018-04-17","v":8720},{"d":"2018-04-18","v":8680},{"d":"2018-04-19","v":8470},{"d":"2018-04-20","v":8340},{"d":"2018-04-21","v":8060},{"d":"2018-04-22","v":8240},{"d":"2018-04-23","v":8230},{"d":"2018-04-24","v":8520},{"d":"2018-04-25","v":8400},{"d":"2018-04-26","v":8000},{"d":"2018-04-27","v":7530},{"d":"2018-04-28","v":7580},{"d":"2018-04-29","v":7470},{"d":"2018-04-30","v":7350},
    {"d":"2018-05-01","v":7350},{"d":"2018-05-02","v":7110},{"d":"2018-05-03","v":7470},{"d":"2018-05-04","v":7400},{"d":"2018-05-05","v":7490},{"d":"2018-05-06","v":7530},{"d":"2018-05-07","v":7640},{"d":"2018-05-08","v":7720},{"d":"2018-05-09","v":7500},{"d":"2018-05-10","v":7620},{"d":"2018-05-11","v":7650},{"d":"2018-05-12","v":7680},{"d":"2018-05-13","v":7620},{"d":"2018-05-14","v":7500},{"d":"2018-05-15","v":6780},{"d":"2018-05-16","v":6880},{"d":"2018-05-17","v":6550},{"d":"2018-05-18","v":6300},{"d":"2018-05-19","v":6640},{"d":"2018-05-20","v":6400},{"d":"2018-05-21","v":6490},{"d":"2018-05-22","v":6460},{"d":"2018-05-23","v":6710},{"d":"2018-05-24","v":6740},{"d":"2018-05-25","v":6760},{"d":"2018-05-26","v":6720},{"d":"2018-05-27","v":6060},{"d":"2018-05-28","v":6170},{"d":"2018-05-29","v":5900}
  ],
  "hdots": [
    {"d":"2018-02-18T19:00:00Z","d2":"2018-06-10T12:00:00Z","p":7807},
    {"d":"2018-01-10","d2":"2018-06-19T12:00:00Z","p":6874},
    {"d":"2017-12-28T14:00:00Z","d2":"2018-06-27T12:00:00Z","p":5780},
    {"d":"2017-12-29T10:00:00Z","d2":"2018-07-20","p":4915}
  ],
  "trend": [{"d":"2017-12-27T19:00:00Z","p":5117,"d2":"2018-07-07T05:00:00Z","p2":8877}],
  "ell": [
    {"d":"2018-05-09T22:00:00Z","p":8315},
    {"d":"2018-05-25T17:00:00Z","p":7430}
  ],
  "ab": [
    {"d":"2018-04-26T22:00:00Z","p":8150,"t":"A"},
    {"d":"2018-05-14","p":7280,"t":"B"}
  ],
  "uparr": [
    {"d":"2018-01-09T16:00:00Z","p":6750},
    {"d":"2018-02-18T19:00:00Z","p":7655},
    {"d":"2018-03-21","p":7679}
  ],
  "nums": [
    {"d":"2017-12-27T14:00:00Z","p":7170,"t":"2"},
    {"d":"2018-02-15T10:00:00Z","p":7868,"t":"1"}
  ],
  "arrow": [
    {"d":"2018-06-23T19:00:00Z","p":5898,"o":1},
    {"d":"2018-06-29T07:00:00Z","p":4959,"o":2},
    {"d":"2018-07-07T22:00:00Z","p":5786,"o":3}
  ],
  "arrowhead": [
    {"d":"2018-07-07T22:00:00Z","p":5786,"d2":"2018-07-05T07:00:00Z","p2":5703},
    {"d":"2018-07-07T22:00:00Z","p":5786,"d2":"2018-07-08T02:00:00Z","p2":5635}
  ],
  "rcall": [
    {"d":"2018-02-01T07:00:00Z","p":13614,"t":"13228.00"},
    {"d":"2018-02-07T22:00:00Z","p":13000,"t":"12610.00"},
    {"d":"2018-03-25T22:00:00Z","p":11966,"t":"11577.00"},
    {"d":"2018-03-02","p":8191,"t":"7807.00"},
    {"d":"2018-01-21","p":7261,"t":"6874.00"},
    {"d":"2018-06-21T17:00:00Z","p":8577,"t":"8188.00"}
  ],
  "rptr": [
    {"d":"2018-01-24","p":13480,"d2":"2018-01-19T10:00:00Z","p2":13251},
    {"d":"2018-01-31T02:00:00Z","p":12834,"d2":"2018-01-26T22:00:00Z","p2":12621},
    {"d":"2018-03-18T02:00:00Z","p":11809,"d2":"2018-03-13T17:00:00Z","p2":11580},
    {"d":"2018-02-23T12:00:00Z","p":8025,"d2":"2018-02-19T14:00:00Z","p2":7836},
    {"d":"2018-01-14T07:00:00Z","p":7103,"d2":"2018-01-10T12:00:00Z","p2":6906},
    {"d":"2018-06-15T17:00:00Z","p":8419,"d2":"2018-06-11T10:00:00Z","p2":8207}
  ]
},
"hconcat": [
  {
    "width": 414,
    "height": 537,
    "encoding": {
      "x": {"field": "d", "type": "temporal",
        "scale": {"type": "utc", "domain": [{"year": 2017, "month": 12, "date": 11, "hours": 21, "utc": true}, {"year": 2018, "month": 7, "date": 13, "hours": 19, "utc": true}]},
        "axis": {"title": null, "grid": true, "tickCount": {"interval": "month", "step": 1}, "labelExpr": "utcmonth(datum.value) == 0 || utcmonth(datum.value) == 2 ? '' : utcFormat(datum.value, '%b')", "labelOverlap": false, "labelFlush": false}}
    },
    "resolve": {"scale": {"y": "independent"}, "axis": {"y": "independent"}},
    "layer": [
      {
        "layer": [
          {"data": {"name": "lbox"}, "mark": {"type": "rect", "fill": "#f44336", "fillOpacity": 0.38, "stroke": "#9a9a9a", "strokeWidth": 1, "clip": true},
           "encoding": {"x2": {"field": "d2"}, "y": {"field": "top", "type": "quantitative", "scale": {"domain": [-6225, 24028], "nice": false, "zero": false}, "axis": {"orient": "right", "title": null, "grid": true, "format": ".2f", "labelOverlap": false, "values": [2000, 4000, 6000, 8000, 10000, 12000, 14000, 16000, 18000, 20000, 22000]}}, "y2": {"field": "bot"}}},
          {"data": {"name": "band"}, "mark": {"type": "rect", "fill": "#cad8f0", "fillOpacity": 0.85, "stroke": "#44557a", "strokeWidth": 1.2, "clip": true},
           "encoding": {"x2": {"field": "d2"}, "y": {"field": "top", "type": "quantitative", "scale": {"domain": [-6225, 24028], "nice": false, "zero": false}}, "y2": {"field": "bot"}}},
          {"data": {"name": "lmid"}, "mark": {"type": "rule", "stroke": "#777777", "strokeDash": [3, 3], "strokeWidth": 1},
           "encoding": {"y": {"field": "top", "type": "quantitative", "scale": {"domain": [-6225, 24028], "nice": false, "zero": false}}, "y2": {"field": "bot"}}},
          {"data": {"name": "vlines"}, "transform": [{"filter": "datum.g == 'blue'"}], "mark": {"type": "rule", "stroke": "#5a5af2", "strokeDash": [1.5, 1.5], "strokeWidth": 1}, "encoding": {}},
          {"data": {"name": "vlines"}, "transform": [{"filter": "datum.g == 'pink'"}], "mark": {"type": "rule", "stroke": "#e24ae2", "strokeDash": [1.5, 1.5], "strokeWidth": 1}, "encoding": {}},
          {"data": {"name": "sep"}, "mark": {"type": "rule", "stroke": "#707070", "strokeWidth": 1, "clip": false},
           "encoding": {"x2": {"field": "d2"}, "y": {"field": "p", "type": "quantitative", "scale": {"domain": [-6225, 24028], "nice": false, "zero": false}}}},
          {"data": {"name": "btc"}, "mark": {"type": "rule", "strokeWidth": 0.8, "clip": true},
           "encoding": {"y": {"field": "l", "type": "quantitative", "scale": {"domain": [-6225, 24028], "nice": false, "zero": false}}, "y2": {"field": "h"},
             "color": {"condition": {"test": "datum.c >= datum.o", "value": "#8c8c8c"}, "value": "#f29a9a"}}},
          {"data": {"name": "btc"}, "mark": {"type": "bar", "size": 1.5, "clip": true},
           "encoding": {"y": {"field": "o", "type": "quantitative", "scale": {"domain": [-6225, 24028], "nice": false, "zero": false}}, "y2": {"field": "c"},
             "color": {"condition": {"test": "datum.c >= datum.o", "value": "#4a4a4a"}, "value": "#e53945"}}},
          {"data": {"name": "ema"}, "transform": [{"filter": "datum.s == 'e20'"}], "mark": {"type": "line", "stroke": "#f7931a", "strokeWidth": 1.3, "interpolate": "monotone", "clip": true},
           "encoding": {"y": {"field": "v", "type": "quantitative", "scale": {"domain": [-6225, 24028], "nice": false, "zero": false}}}},
          {"data": {"name": "ema"}, "transform": [{"filter": "datum.s == 'e8'"}], "mark": {"type": "line", "stroke": "#4f9a3c", "strokeWidth": 1.1, "interpolate": "monotone", "clip": true},
           "encoding": {"y": {"field": "v", "type": "quantitative", "scale": {"domain": [-6225, 24028], "nice": false, "zero": false}}}},
          {"data": {"name": "ltitle"}, "transform": [{"filter": "datum.k == 'main'"}], "mark": {"type": "text", "align": "left", "baseline": "middle", "fontSize": 7.5, "fontWeight": "bold", "color": "#444444"},
           "encoding": {"y": {"field": "p", "type": "quantitative", "scale": {"domain": [-6225, 24028], "nice": false, "zero": false}}, "text": {"field": "t", "type": "nominal"}}},
          {"data": {"name": "ltitle"}, "transform": [{"filter": "datum.k == 'study'"}], "mark": {"type": "text", "align": "left", "baseline": "middle", "fontSize": 7.5, "color": "#555555"},
           "encoding": {"y": {"field": "p", "type": "quantitative", "scale": {"domain": [-6225, 24028], "nice": false, "zero": false}}, "text": {"field": "t", "type": "nominal"}}},
          {"data": {"name": "lptr"}, "mark": {"type": "rule", "stroke": "#999999", "strokeWidth": 1},
           "encoding": {"x2": {"field": "d2"}, "y": {"field": "p", "type": "quantitative", "scale": {"domain": [-6225, 24028], "nice": false, "zero": false}}, "y2": {"field": "p2"}}},
          {"data": {"name": "lcall"}, "mark": {"type": "point", "shape": "M-1,-0.35H1V0.35H-1Z", "size": 1369, "filled": true, "fill": "#ffffff", "stroke": "#999999", "strokeWidth": 1, "opacity": 1},
           "encoding": {"y": {"field": "p", "type": "quantitative", "scale": {"domain": [-6225, 24028], "nice": false, "zero": false}}}},
          {"data": {"name": "lcall"}, "mark": {"type": "text", "fontSize": 7, "color": "#555555", "baseline": "middle"},
           "encoding": {"y": {"field": "p", "type": "quantitative", "scale": {"domain": [-6225, 24028], "nice": false, "zero": false}}, "text": {"field": "t", "type": "nominal"}}},
          {"data": {"name": "lred"}, "mark": {"type": "point", "shape": "M-1,-0.11H1V0.11H-1Z", "size": 13924, "filled": true, "fill": "#f21c1c", "strokeWidth": 0, "opacity": 1},
           "encoding": {"y": {"field": "p", "type": "quantitative", "scale": {"domain": [-6225, 24028], "nice": false, "zero": false}}}},
          {"data": {"name": "lred"}, "mark": {"type": "text", "fontSize": 7.5, "fontWeight": "bold", "color": "#ffffff", "baseline": "middle"},
           "encoding": {"y": {"field": "p", "type": "quantitative", "scale": {"domain": [-6225, 24028], "nice": false, "zero": false}}, "text": {"field": "t", "type": "nominal"}}}
        ]
      },
      {
        "layer": [
          {"data": {"name": "obv"}, "mark": {"type": "line", "stroke": "#5b7ba6", "strokeWidth": 1, "clip": true},
           "encoding": {"y": {"field": "v", "type": "quantitative", "scale": {"domain": [1142934, 4012002], "nice": false, "zero": false}, "axis": {"orient": "right", "title": null, "grid": true, "format": ".4f", "labelOverlap": false, "values": [1200000, 1300000, 1400000, 1500000, 1600000, 1700000, 1800000]}}}},
          {"data": {"name": "obvref"}, "mark": {"type": "rule", "stroke": "#d69be6", "strokeDash": [1.5, 1.5], "strokeWidth": 1},
           "encoding": {"x2": {"field": "d2"}, "y": {"field": "v", "type": "quantitative", "scale": {"domain": [1142934, 4012002], "nice": false, "zero": false}}, "y2": {"field": "v2"}}},
          {"data": {"name": "obvtrend"}, "mark": {"type": "rule", "stroke": "#7b52e0", "strokeDash": [1.5, 2], "strokeWidth": 1.5},
           "encoding": {"x2": {"field": "d2"}, "y": {"field": "v", "type": "quantitative", "scale": {"domain": [1142934, 4012002], "nice": false, "zero": false}}, "y2": {"field": "v2"}}},
          {"data": {"name": "obvang"}, "mark": {"type": "text", "fontSize": 9, "fontWeight": "bold", "color": "#4444dd", "baseline": "middle"},
           "encoding": {"y": {"field": "v", "type": "quantitative", "scale": {"domain": [1142934, 4012002], "nice": false, "zero": false}}, "text": {"field": "t", "type": "nominal"}}},
          {"data": {"name": "obvlbl"}, "mark": {"type": "text", "fontSize": 7.5, "color": "#555555", "align": "left", "baseline": "middle"},
           "encoding": {"y": {"field": "v", "type": "quantitative", "scale": {"domain": [1142934, 4012002], "nice": false, "zero": false}}, "text": {"field": "t", "type": "nominal"}}},
          {"data": {"name": "badge"}, "transform": [{"filter": "datum.g == 'blue'"}], "mark": {"type": "rect", "fill": "#1f1fe6", "clip": false},
           "encoding": {"x2": {"field": "d2"}, "y": {"datum": 1137592, "type": "quantitative", "scale": {"domain": [1142934, 4012002], "nice": false, "zero": false}}, "y2": {"datum": 1078830}}},
          {"data": {"name": "badge"}, "transform": [{"filter": "datum.g == 'pink'"}], "mark": {"type": "rect", "fill": "#ee1eee", "clip": false},
           "encoding": {"x2": {"field": "d2"}, "y": {"datum": 1137592, "type": "quantitative", "scale": {"domain": [1142934, 4012002], "nice": false, "zero": false}}, "y2": {"datum": 1078830}}},
          {"data": {"name": "badgetxt"}, "mark": {"type": "text", "fontSize": 7, "fontWeight": "bold", "color": "#ffffff", "baseline": "middle", "clip": false},
           "encoding": {"y": {"datum": 1108211, "type": "quantitative", "scale": {"domain": [1142934, 4012002], "nice": false, "zero": false}}, "text": {"field": "t", "type": "nominal"}}}
        ]
      }
    ]
  },
  {
    "width": 430,
    "height": 537,
    "encoding": {
      "x": {"field": "d", "type": "temporal",
        "scale": {"type": "utc", "domain": [{"year": 2017, "month": 12, "date": 28, "hours": 6, "utc": true}, {"year": 2018, "month": 7, "date": 17, "hours": 9, "utc": true}]},
        "axis": {"title": null, "grid": true, "tickCount": {"interval": "month", "step": 1}, "labelExpr": "utcmonth(datum.value) == 0 ? utcFormat(datum.value, '%Y') : utcFormat(datum.value, '%b')", "labelOverlap": false, "labelFlush": false}}
    },
    "resolve": {"scale": {"y": "independent"}, "axis": {"y": "independent"}},
    "layer": [
      {"data": {"name": "cloud"}, "transform": [{"filter": "datum.k == 'g'"}], "mark": {"type": "area", "fill": "#86e486", "fillOpacity": 0.8, "stroke": "#4cc24c", "strokeWidth": 0.8, "clip": true},
       "encoding": {"y": {"field": "hi", "type": "quantitative", "scale": {"domain": [2179, 14236], "nice": false, "zero": false}, "axis": {"orient": "right", "title": null, "grid": true, "format": ".2f", "labelOverlap": false, "values": [2500, 3500, 4500, 5500, 6500, 7500, 8500, 9500, 10500, 11500, 12500, 13500]}}, "y2": {"field": "lo"}, "detail": {"field": "seg"}}},
      {"data": {"name": "cloud"}, "transform": [{"filter": "datum.k == 'r'"}], "mark": {"type": "area", "fill": "#f38c8c", "fillOpacity": 0.8, "stroke": "#e24a4a", "strokeWidth": 0.8, "clip": true},
       "encoding": {"y": {"field": "hi", "type": "quantitative", "scale": {"domain": [2179, 14236], "nice": false, "zero": false}, "axis": {"orient": "right", "title": null, "grid": true, "format": ".2f", "labelOverlap": false, "values": [3000, 4000, 5000, 6000, 7000, 8000, 9000, 10000, 11000, 12000, 13000, 14000]}}, "y2": {"field": "lo"}, "detail": {"field": "seg"}}},
      {"data": {"name": "obox"}, "mark": {"type": "rect", "fill": "#ffc27a", "fillOpacity": 0.6, "stroke": "#4a4a4a", "strokeWidth": 1, "clip": true},
       "encoding": {"x2": {"field": "d2"}, "y": {"field": "top", "type": "quantitative", "scale": {"domain": [2179, 14236], "nice": false, "zero": false}, "axis": null}, "y2": {"field": "bot"}}},
      {"data": {"name": "rtitle"}, "transform": [{"filter": "datum.k == 'main'"}], "mark": {"type": "text", "align": "left", "baseline": "middle", "fontSize": 7.5, "fontWeight": "bold", "color": "#444444", "clip": true},
       "encoding": {"y": {"field": "p", "type": "quantitative", "scale": {"domain": [2179, 14236], "nice": false, "zero": false}, "axis": null}, "text": {"field": "t", "type": "nominal"}}},
      {"data": {"name": "rtitle"}, "transform": [{"filter": "datum.k == 'study'"}], "mark": {"type": "text", "align": "left", "baseline": "middle", "fontSize": 7.5, "color": "#555555", "clip": true},
       "encoding": {"y": {"field": "p", "type": "quantitative", "scale": {"domain": [2179, 14236], "nice": false, "zero": false}, "axis": null}, "text": {"field": "t", "type": "nominal"}}},
      {"data": {"name": "chikou"}, "mark": {"type": "line", "stroke": "#58e2f0", "strokeWidth": 1.5, "clip": true},
       "encoding": {"y": {"field": "v", "type": "quantitative", "scale": {"domain": [2179, 14236], "nice": false, "zero": false}, "axis": null}}},
      {"data": {"name": "kijun"}, "mark": {"type": "line", "stroke": "#e87ce8", "strokeWidth": 1, "clip": true},
       "encoding": {"y": {"field": "v", "type": "quantitative", "scale": {"domain": [2179, 14236], "nice": false, "zero": false}, "axis": null}}},
      {"data": {"name": "tenkan"}, "mark": {"type": "line", "stroke": "#7fd87f", "strokeWidth": 1, "clip": true},
       "encoding": {"y": {"field": "v", "type": "quantitative", "scale": {"domain": [2179, 14236], "nice": false, "zero": false}, "axis": null}}},
      {"data": {"name": "btc"}, "mark": {"type": "rule", "strokeWidth": 0.8, "clip": true},
       "encoding": {"y": {"field": "l", "type": "quantitative", "scale": {"domain": [2179, 14236], "nice": false, "zero": false}, "axis": null}, "y2": {"field": "h"},
         "color": {"condition": {"test": "datum.c >= datum.o", "value": "#8c8c8c"}, "value": "#f29a9a"}}},
      {"data": {"name": "btc"}, "mark": {"type": "bar", "size": 1.7, "clip": true},
       "encoding": {"y": {"field": "o", "type": "quantitative", "scale": {"domain": [2179, 14236], "nice": false, "zero": false}, "axis": null}, "y2": {"field": "c"},
         "color": {"condition": {"test": "datum.c >= datum.o", "value": "#4a4a4a"}, "value": "#e53945"}}},
      {"data": {"name": "hdots"}, "mark": {"type": "rule", "stroke": "#111111", "strokeDash": [1.2, 2], "strokeWidth": 1.2, "clip": true},
       "encoding": {"x2": {"field": "d2"}, "y": {"field": "p", "type": "quantitative", "scale": {"domain": [2179, 14236], "nice": false, "zero": false}, "axis": null}}},
      {"data": {"name": "trend"}, "mark": {"type": "rule", "stroke": "#e040e0", "strokeDash": [0.5, 5.2], "strokeCap": "round", "strokeWidth": 2.6, "clip": true},
       "encoding": {"x2": {"field": "d2"}, "y": {"field": "p", "type": "quantitative", "scale": {"domain": [2179, 14236], "nice": false, "zero": false}, "axis": null}, "y2": {"field": "p2"}}},
      {"data": {"name": "ell"}, "mark": {"type": "point", "shape": "M1,0C1,0.221 0.552,0.4 0,0.4C-0.552,0.4 -1,0.221 -1,0C-1,-0.221 -0.552,-0.4 0,-0.4C0.552,-0.4 1,-0.221 1,0Z", "size": 7569, "filled": true, "fill": "#f3ee66", "fillOpacity": 0.5, "stroke": "#8f8f5a", "strokeWidth": 1, "opacity": 1},
       "encoding": {"y": {"field": "p", "type": "quantitative", "scale": {"domain": [2179, 14236], "nice": false, "zero": false}, "axis": null}}},
      {"data": {"name": "ab"}, "mark": {"type": "text", "fontSize": 13, "color": "#3b82e0", "baseline": "middle"},
       "encoding": {"y": {"field": "p", "type": "quantitative", "scale": {"domain": [2179, 14236], "nice": false, "zero": false}, "axis": null}, "text": {"field": "t", "type": "nominal"}}},
      {"data": {"name": "uparr"}, "mark": {"type": "point", "shape": "M-0.72,-0.1L0,-0.85L0.72,-0.1M0,-0.82L0,0.85", "size": 324, "filled": false, "stroke": "#3535e6", "strokeWidth": 3.2, "opacity": 1},
       "encoding": {"y": {"field": "p", "type": "quantitative", "scale": {"domain": [2179, 14236], "nice": false, "zero": false}, "axis": null}}},
      {"data": {"name": "nums"}, "mark": {"type": "text", "fontSize": 21, "fontWeight": "bold", "color": "#2a2ad6", "baseline": "middle", "clip": true},
       "encoding": {"y": {"field": "p", "type": "quantitative", "scale": {"domain": [2179, 14236], "nice": false, "zero": false}, "axis": null}, "text": {"field": "t", "type": "nominal"}}},
      {"data": {"name": "arrow"}, "mark": {"type": "line", "stroke": "#111111", "strokeWidth": 1.5},
       "encoding": {"y": {"field": "p", "type": "quantitative", "scale": {"domain": [2179, 14236], "nice": false, "zero": false}, "axis": null}, "order": {"field": "o"}}},
      {"data": {"name": "arrowhead"}, "mark": {"type": "rule", "stroke": "#111111", "strokeWidth": 1.5},
       "encoding": {"x2": {"field": "d2"}, "y": {"field": "p", "type": "quantitative", "scale": {"domain": [2179, 14236], "nice": false, "zero": false}, "axis": null}, "y2": {"field": "p2"}}},
      {"data": {"name": "rptr"}, "mark": {"type": "rule", "stroke": "#999999", "strokeWidth": 1, "clip": true},
       "encoding": {"x2": {"field": "d2"}, "y": {"field": "p", "type": "quantitative", "scale": {"domain": [2179, 14236], "nice": false, "zero": false}, "axis": null}, "y2": {"field": "p2"}}},
      {"data": {"name": "rcall"}, "mark": {"type": "point", "shape": "M-1,-0.33H1V0.33H-1Z", "size": 1600, "filled": true, "fill": "#ffffff", "stroke": "#999999", "strokeWidth": 1, "opacity": 1, "clip": true},
       "encoding": {"y": {"field": "p", "type": "quantitative", "scale": {"domain": [2179, 14236], "nice": false, "zero": false}, "axis": null}}},
      {"data": {"name": "rcall"}, "mark": {"type": "text", "fontSize": 7, "color": "#555555", "baseline": "middle", "clip": true},
       "encoding": {"y": {"field": "p", "type": "quantitative", "scale": {"domain": [2179, 14236], "nice": false, "zero": false}, "axis": null}, "text": {"field": "t", "type": "nominal"}}}
    ]
  }
]
}
